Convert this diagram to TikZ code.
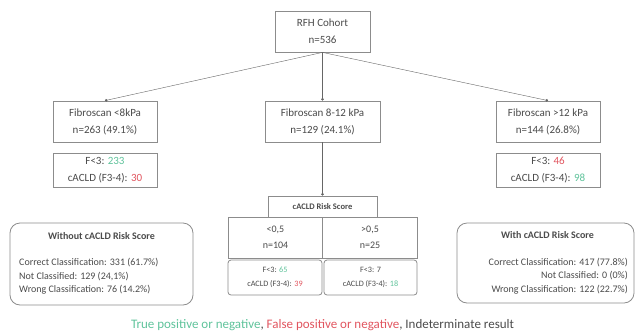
\documentclass[tikz,border=0pt]{standalone}
\usepackage{fontspec}
\setmainfont{Carlito}
\usetikzlibrary{arrows.meta}
\definecolor{boxgray}{RGB}{140,140,140}
\definecolor{txtgray}{RGB}{75,75,75}
\definecolor{tpgreen}{RGB}{95,195,155}
\definecolor{fpred}{RGB}{225,85,95}
\newcommand{\tp}[1]{\textcolor{tpgreen}{#1}}
\newcommand{\fp}[1]{\textcolor{fpred}{#1}}

\begin{document}
\begin{tikzpicture}[x=1pt,y=-1pt,->,>={Circle[length=2.6pt]},thin,draw=txtgray!85]
  \tikzstyle{box}=[draw=boxgray,line width=0.8pt,fill=white,text=txtgray,align=center,inner sep=0pt,font=\fontsize{11}{17}\selectfont]
  \tikzstyle{small box}=[box,font=\fontsize{10}{16}\selectfont]
  \tikzstyle{tiny box}=[box,rounded corners=3pt,font=\fontsize{8.2}{14}\selectfont]
  \tikzstyle{summary}=[box,rounded corners=10pt]
  \tikzstyle{info}=[text=txtgray,inner sep=0pt,font=\fontsize{10}{13.5}\selectfont]
  \useasboundingbox (0,0) rectangle (636,335);

  % top level
  \node[box,minimum width=95,minimum height=41]  (cohort) at (322.5,31.5) {RFH Cohort\\n=536};

  % fibroscan groups
  \node[box,minimum width=104,minimum height=41] (low)  at (105,121.5)   {Fibroscan <8kPa\\n=263 (49.1\%)};
  \node[box,minimum width=115,minimum height=41] (mid)  at (322.5,121.5) {Fibroscan 8-12 kPa\\n=129 (24.1\%)};
  \node[box,minimum width=104,minimum height=41] (high) at (548,121.5)   {Fibroscan >12 kPa\\n=144 (26.8\%)};

  \node[box,minimum width=104,minimum height=34] (lowres)  at (105,170) {F<3: \tp{233}\\cACLD (F3-4): \fp{30}};
  \node[box,minimum width=104,minimum height=34] (highres) at (548,170) {F<3: \fp{46}\\cACLD (F3-4): \tp{98}};

  % risk score split
  \node[small box,minimum width=109,minimum height=21,font=\bfseries\fontsize{8.5}{10}\selectfont] (score) at (322.5,206.5) {cACLD Risk Score};
  \node[small box,minimum width=95,minimum height=41] (below) at (275.5,237.5) {<0,5\\n=104};
  \node[small box,minimum width=95,minimum height=41] (above) at (370,237.5)   {>0,5\\n=25};
  \node[tiny box,minimum width=94,minimum height=35] (belowres) at (275,277.5) {F<3: \tp{65}\\cACLD (F3-4): \fp{39}};
  \node[tiny box,minimum width=93,minimum height=35] (aboveres) at (370.5,277.5) {F<3: 7\\cACLD (F3-4): \tp{18}};

  % summaries
  \node[summary,minimum width=183,minimum height=82] (without) at (101.5,264) {};
  \node[info,font=\bfseries\fontsize{10}{12}\selectfont] (withouttitle) at (101.5,236) {Without cACLD Risk Score};
  \node[info,align=left,anchor=west] (withouttext) at (19,276.5)
    {Correct Classification: 331 (61.7\%)\\Not Classified: 129 (24,1\%)\\Wrong Classification: 76 (14.2\%)};

  \node[summary,minimum width=177,minimum height=80] (with) at (545.5,263) {};
  \node[info,font=\bfseries\fontsize{10}{12}\selectfont] (withtitle) at (547.5,235) {With cACLD Risk Score};
  \node[info,align=right,anchor=east] (withtext) at (628,276)
    {Correct Classification: 417 (77.8\%)\\Not Classified: 0 (0\%)\\Wrong Classification: 122 (22.7\%)};

  % legend
  \node[info,font=\fontsize{13}{15}\selectfont] (legend) at (322.5,325)
    {\tp{True positive or negative}, \fp{False positive or negative}, Indeterminate result};

  \path (cohort.south) edge (low.north)
                       edge (mid.north)
                       edge (high.north)
        (mid.south)    edge (score.north);
\end{tikzpicture}
\end{document}
